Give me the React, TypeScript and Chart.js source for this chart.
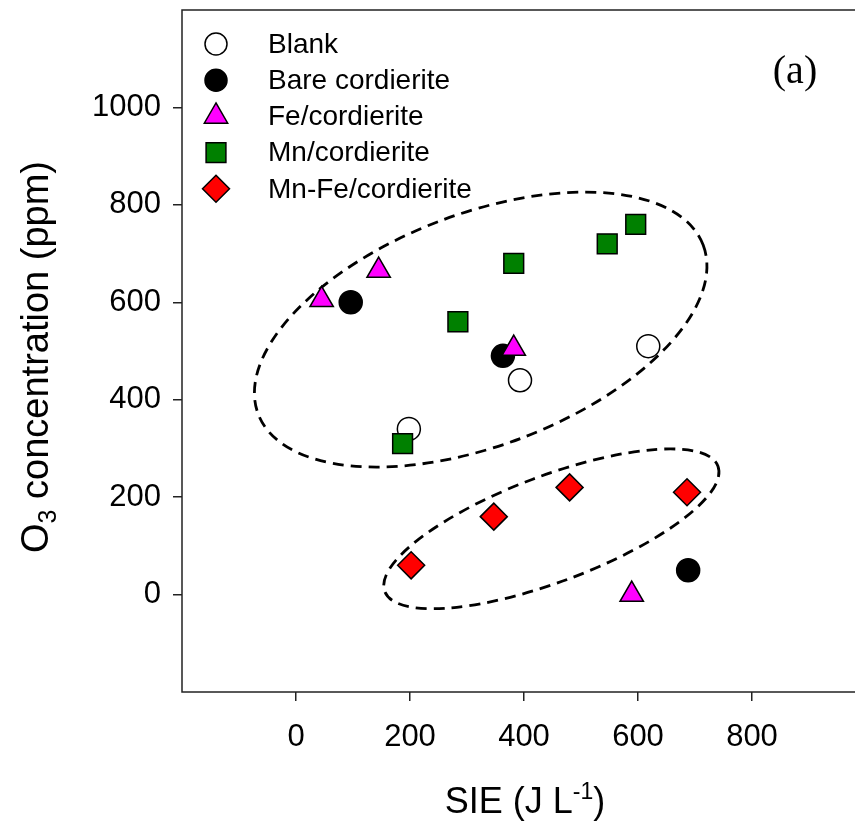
import React, { useEffect, useRef } from 'react';
import { Chart, registerables } from 'chart.js';

Chart.register(...registerables);

// ---- data ----
const seriesNames = ['Blank', 'Bare cordierite', 'Fe/cordierite', 'Mn/cordierite', 'Mn-Fe/cordierite'];
const blankX = [198, 393, 618];
const blankY = [340, 440, 510];
const bareX = [96, 363, 688];
const bareY = [600, 490, 50];
const feX = [45, 145, 382, 589];
const feY = [605, 665, 505, 0];
const mnX = [187, 284, 382, 546, 596];
const mnY = [310, 560, 680, 720, 760];
const mnFeX = [202, 347, 480, 686];
const mnFeY = [60, 160, 220, 210];
const xTicks = [0, 200, 400, 600, 800];
const yTicks = [0, 200, 400, 600, 800, 1000];

// ---- styles ----
const markerStyles = [
  { shape: 'circle', r: 11.5, fill: '#ffffff', stroke: '#000000' },
  { shape: 'circle', r: 11.5, fill: '#000000', stroke: '#000000' },
  { shape: 'triangle', r: 13.5, fill: '#ff00ff', stroke: '#000000' },
  { shape: 'rect', r: 14, fill: '#008000', stroke: '#000000' },
  { shape: 'rectRot', r: 13.5, fill: '#ff0000', stroke: '#000000' },
];

// dashed ellipse annotations: centre in data units, semi-axes in px, rotation in degrees
const ellipseCx = [324, 448];
const ellipseCy = [544, 135];
const ellipseRx = [238, 178];
const ellipseRy = [116, 53];
const ellipseRot = [-20.8, -20.6];

const SANS = '"Liberation Sans", Arial, sans-serif';
const SERIF = '"Liberation Serif", "Times New Roman", serif';

function drawMarker(ctx: CanvasRenderingContext2D, shape: string, x: number, y: number, r: number, fill: string, stroke: string) {
  ctx.save();
  ctx.beginPath();
  if (shape === 'circle') {
    ctx.arc(x, y, r, 0, Math.PI * 2);
  } else if (shape === 'triangle') {
    const w = r * Math.sin((2 * Math.PI) / 3);
    ctx.moveTo(x, y - r);
    ctx.lineTo(x + w, y + r / 2);
    ctx.lineTo(x - w, y + r / 2);
    ctx.closePath();
  } else if (shape === 'rect') {
    const s = Math.SQRT1_2 * r;
    ctx.rect(x - s, y - s, 2 * s, 2 * s);
  } else {
    ctx.moveTo(x, y - r);
    ctx.lineTo(x + r, y);
    ctx.lineTo(x, y + r);
    ctx.lineTo(x - r, y);
    ctx.closePath();
  }
  ctx.fillStyle = fill;
  ctx.fill();
  ctx.lineWidth = 1.5;
  ctx.strokeStyle = stroke;
  ctx.stroke();
  ctx.restore();
}

const decorPlugin = {
  id: 'decor',
  beforeDatasetsDraw(chart: any) {
    const { ctx, chartArea, scales } = chart;
    // frame
    ctx.save();
    ctx.strokeStyle = '#222';
    ctx.lineWidth = 1.5;
    ctx.strokeRect(chartArea.left, chartArea.top, chartArea.right - chartArea.left, chartArea.bottom - chartArea.top);
    ctx.restore();
    // ellipses
    ctx.save();
    ctx.setLineDash([11, 7]);
    ctx.lineWidth = 2.8;
    ctx.strokeStyle = '#000';
    for (let i = 0; i < ellipseCx.length; i++) {
      const cx = scales.x.getPixelForValue(ellipseCx[i]);
      const cy = scales.y.getPixelForValue(ellipseCy[i]);
      ctx.beginPath();
      ctx.ellipse(cx, cy, ellipseRx[i], ellipseRy[i], (ellipseRot[i] * Math.PI) / 180, 0, Math.PI * 2);
      ctx.stroke();
    }
    ctx.restore();
  },
  afterDraw(chart: any) {
    const { ctx } = chart;
    // legend
    ctx.save();
    ctx.font = `28px ${SANS}`;
    ctx.fillStyle = '#000';
    ctx.textBaseline = 'middle';
    ctx.textAlign = 'left';
    for (let i = 0; i < seriesNames.length; i++) {
      const yy = 44 + i * 36.2;
      const m = markerStyles[i];
      drawMarker(ctx, m.shape, 216, yy, m.shape === 'circle' ? 11 : m.r, m.fill, m.stroke);
      ctx.fillText(seriesNames[i], 268, yy + 1);
    }
    ctx.restore();

    // panel label
    ctx.save();
    ctx.font = `40px ${SERIF}`;
    ctx.fillStyle = '#000';
    ctx.textAlign = 'center';
    ctx.textBaseline = 'middle';
    ctx.fillText('(a)', 795, 72);
    ctx.restore();

    // x axis title: SIE (J L^-1)
    ctx.save();
    ctx.fillStyle = '#000';
    ctx.textBaseline = 'alphabetic';
    ctx.textAlign = 'left';
    const mainFont = `36px ${SANS}`;
    const supFont = `23px ${SANS}`;
    ctx.font = mainFont;
    const p1 = 'SIE (J L';
    const w1 = ctx.measureText(p1).width;
    const p3 = ')';
    const w3 = ctx.measureText(p3).width;
    ctx.font = supFont;
    const p2 = '-1';
    const w2 = ctx.measureText(p2).width;
    const total = w1 + w2 + w3;
    const cxT = 525;
    let xs = cxT - total / 2;
    const base = 813;
    ctx.font = mainFont;
    ctx.fillText(p1, xs, base);
    xs += w1;
    ctx.font = supFont;
    ctx.fillText(p2, xs, base - 14);
    xs += w2;
    ctx.font = mainFont;
    ctx.fillText(p3, xs, base);
    ctx.restore();

    // y axis title: O3 concentration (ppm)
    ctx.save();
    ctx.fillStyle = '#000';
    ctx.translate(48, 357);
    ctx.rotate(-Math.PI / 2);
    ctx.textBaseline = 'alphabetic';
    ctx.textAlign = 'left';
    const yMain = `38px ${SANS}`;
    const ySub = `25px ${SANS}`;
    ctx.font = yMain;
    const q1 = 'O';
    const q3 = ' concentration (ppm)';
    const v1 = ctx.measureText(q1).width;
    const v3 = ctx.measureText(q3).width;
    ctx.font = ySub;
    const q2 = '3';
    const v2 = ctx.measureText(q2).width;
    let ys = -(v1 + v2 + v3) / 2;
    ctx.font = yMain;
    ctx.fillText(q1, ys, 0);
    ys += v1;
    ctx.font = ySub;
    ctx.fillText(q2, ys, 8);
    ys += v2;
    ctx.font = yMain;
    ctx.fillText(q3, ys, 0);
    ctx.restore();
  },
};

function makeDataset(i: number, xs: number[], ys: number[]) {
  const m = markerStyles[i];
  return {
    label: seriesNames[i],
    data: xs.map((x, k) => ({ x, y: ys[k] })),
    pointStyle: m.shape,
    pointRadius: m.r,
    pointBackgroundColor: m.fill,
    pointBorderColor: m.stroke,
    pointBorderWidth: 1.5,
    showLine: false,
    order: 5 - i,
  };
}

export default function App() {
  const canvasRef = useRef<HTMLCanvasElement | null>(null);

  useEffect(() => {
    const canvas = canvasRef.current;
    if (!canvas) return;
    const chart = new Chart(canvas, {
      type: 'scatter',
      data: {
        datasets: [
          makeDataset(0, blankX, blankY),
          makeDataset(1, bareX, bareY),
          makeDataset(2, feX, feY),
          makeDataset(3, mnX, mnY),
          makeDataset(4, mnFeX, mnFeY),
        ],
      },
      options: {
        responsive: false,
        animation: false,
        devicePixelRatio: 1,
        layout: { autoPadding: false, padding: { left: 0, top: 10, right: 14, bottom: 0 } },
        plugins: {
          legend: { display: false },
          tooltip: { enabled: false },
          title: { display: false },
        },
        scales: {
          x: {
            type: 'linear',
            position: 'bottom',
            min: -200,
            max: 1000,
            afterBuildTicks: (s: any) => {
              s.ticks = xTicks.map((v) => ({ value: v }));
            },
            afterFit: (s: any) => {
              s.height = 138;
              s.paddingLeft = 0;
              s.paddingRight = 0;
            },
            grid: { drawOnChartArea: false, drawTicks: true, tickLength: 9, color: '#222', lineWidth: 1.5 },
            border: { display: false },
            ticks: {
              font: { family: SANS, size: 31 },
              color: '#000',
              padding: 18,
              maxRotation: 0,
              autoSkip: false,
              callback: (v: any) => String(v),
            },
          },
          y: {
            type: 'linear',
            position: 'left',
            min: -200,
            max: 1200,
            afterBuildTicks: (s: any) => {
              s.ticks = yTicks.map((v) => ({ value: v }));
            },
            afterFit: (s: any) => {
              s.width = 182;
              s.paddingTop = 0;
              s.paddingBottom = 0;
            },
            grid: { drawOnChartArea: false, drawTicks: true, tickLength: 9, color: '#222', lineWidth: 1.5 },
            border: { display: false },
            ticks: {
              font: { family: SANS, size: 31 },
              color: '#000',
              padding: 12,
              autoSkip: false,
              callback: (v: any) => String(v),
            },
          },
        },
      },
      plugins: [decorPlugin],
    } as any);
    return () => chart.destroy();
  }, []);

  return (
    <div style={{ position: 'absolute', left: 0, top: 0, width: 855, height: 830, overflow: 'hidden', background: '#fff' }}>
      <canvas ref={canvasRef} width={880} height={830} style={{ display: 'block', width: 880, height: 830 }} />
    </div>
  );
}
